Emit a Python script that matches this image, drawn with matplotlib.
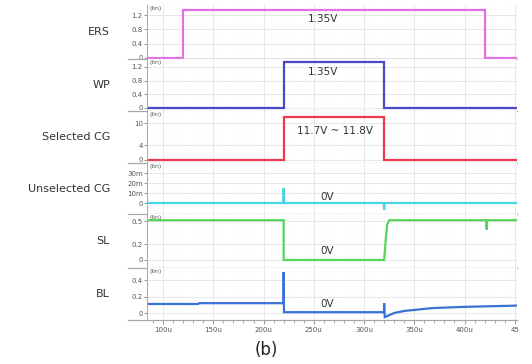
import numpy as np
import matplotlib
matplotlib.use("Agg")
import matplotlib.pyplot as plt
from matplotlib.ticker import FixedLocator, MultipleLocator, FuncFormatter

# -------------------------------------------------------------------
# DATA  (time in us, value in V) - breakpoints
# -------------------------------------------------------------------
ERS_T = [84, 120, 120, 420, 420, 452]
ERS_V = [0.0, 0.0, 1.35, 1.35, 0.0, 0.0]

WP_T = [84, 220, 220, 320, 320, 452]
WP_V = [0.0, 0.0, 1.35, 1.35, 0.0, 0.0]

SCG_T = [84, 220, 220, 320, 320, 452]
SCG_V = [0.0, 0.0, 11.75, 11.75, 0.0, 0.0]

UCG_T = [84, 219.6, 220, 220.4, 319.6, 320, 320.4, 452]
UCG_V = [0.0, 0.0, 0.015, 0.0, 0.0, -0.007, 0.0, 0.0]

SL_T = [84, 220, 220, 320, 321.5, 323, 325, 421.6, 422, 422.4, 452]
SL_V = [0.51, 0.51, 0.0, 0.0, 0.25, 0.45, 0.51, 0.51, 0.39, 0.51, 0.51]

BL_T = [84, 135, 136, 219.8, 220, 220.3, 319.8, 320, 320.6, 330, 340, 368, 400, 452]
BL_V = [0.11, 0.11, 0.12, 0.12, 0.50, 0.01, 0.01, 0.12, -0.05, 0.0, 0.025, 0.06, 0.075, 0.09]

NAMES = ["ERS", "WP", "Selected CG", "Unselected CG", "SL", "BL"]
SERIES = [(ERS_T, ERS_V), (WP_T, WP_V), (SCG_T, SCG_V),
          (UCG_T, UCG_V), (SL_T, SL_V), (BL_T, BL_V)]

YTICKS = [[0, 0.4, 0.8, 1.2], [0, 0.4, 0.8, 1.2], [0, 4, 10],
          [0, 0.01, 0.02, 0.03], [0, 0.2, 0.5], [0, 0.2, 0.4]]
YTICKLABELS = [["0", "0.4", "0.8", "1.2"], ["0", "0.4", "0.8", "1.2"],
               ["0", "4", "10"], ["0", "10m", "20m", "30m"],
               ["0", "0.2", "0.5"], ["0", "0.2", "0.4"]]

# annotation text (x in us, y in V)
NOTES = [("1.35V", 259, 1.08), ("1.35V", 259, 1.04), ("11.7V ~ 11.8V", 271, 7.9),
         ("0V", 263, 0.006), ("0V", 263, 0.115), ("0V", 263, 0.11)]

X_TICKS = [100, 150, 200, 250, 300, 350, 400, 450]

# -------------------------------------------------------------------
# LAYOUT (pixels of a 532x364 figure)
# -------------------------------------------------------------------
W, H = 532, 364
LEFT, RIGHT = 147, 517
BOUNDS = [5, 59, 111, 163, 214, 268, 320]
# pixel row of zero and pixels per volt for each panel
ZERO_PX = [58, 108, 160, 203, 260, 313]
PX_PER_V = [35.8, 34.2, 3.66, 1000.0, 78.0, 82.0]
COLORS = ["#e46ee4", "#4848c4", "#ec3a4a", "#48d4e4", "#58d458", "#3a72d8"]

fig = plt.figure(figsize=(W / 100, H / 100), dpi=100)
gray = "#a8a8a8"

for i in range(6):
    top, bot = BOUNDS[i], BOUNDS[i + 1]
    ax = fig.add_axes([LEFT / W, 1 - bot / H, (RIGHT - LEFT) / W, (bot - top) / H])
    t, v = SERIES[i]
    ax.plot(t, v, color=COLORS[i], lw=1.6, solid_joinstyle="miter")

    ax.set_xlim(84, 452.2)
    ax.set_ylim((ZERO_PX[i] - bot) / PX_PER_V[i], (ZERO_PX[i] - top) / PX_PER_V[i])

    ax.yaxis.set_major_locator(FixedLocator(YTICKS[i]))
    ax.set_yticklabels(YTICKLABELS[i])
    ax.xaxis.set_major_locator(MultipleLocator(50))
    ax.xaxis.set_minor_locator(MultipleLocator(10))

    ax.grid(True, which="major", color="#e4e4e4", lw=0.6)
    ax.grid(True, which="minor", axis="x", color="#f2f2f2", lw=0.5, ls=":")

    for s in ["top", "right"]:
        ax.spines[s].set_visible(False)
    ax.spines["left"].set_color(gray)
    ax.spines["bottom"].set_color(gray)
    ax.spines["left"].set_linewidth(0.7)
    ax.spines["bottom"].set_linewidth(0.9)
    # separator line reaching left of the axis
    ax.plot([-0.052, 0], [0, 0], transform=ax.transAxes, color=gray,
            lw=0.9, clip_on=False)

    ax.tick_params(axis="y", labelsize=5, length=2, width=0.5, pad=1,
                   colors="#666666", labelcolor="#555555")
    if i < 5:
        ax.tick_params(axis="x", which="both", length=0, labelbottom=False)
    else:
        ax.tick_params(axis="x", which="major", labelsize=5, length=3, width=0.6,
                       colors="#888888", labelcolor="#555555", pad=2)
        ax.tick_params(axis="x", which="minor", length=2, width=0.5, colors="#888888")
        ax.xaxis.set_major_locator(FixedLocator(X_TICKS))
        ax.xaxis.set_major_formatter(FuncFormatter(
            lambda x, p: "45" if x >= 450 else f"{int(x)}u"))

    ax.text(0.008, 0.985, "(lin)", transform=ax.transAxes, fontsize=4.5,
            color="#555555", ha="left", va="top")
    ax.text(-0.1, 0.5, NAMES[i], transform=ax.transAxes, fontsize=8,
            color="#333333", ha="right", va="center")

    label, nx, ny = NOTES[i]
    ax.text(nx, ny, label, fontsize=7.5, color="#333333", ha="center", va="center")

fig.text(266 / W, 1 - 350 / H, "(b)", fontsize=12, color="#222222",
         ha="center", va="center")

fig.savefig("out.png", dpi=100)
